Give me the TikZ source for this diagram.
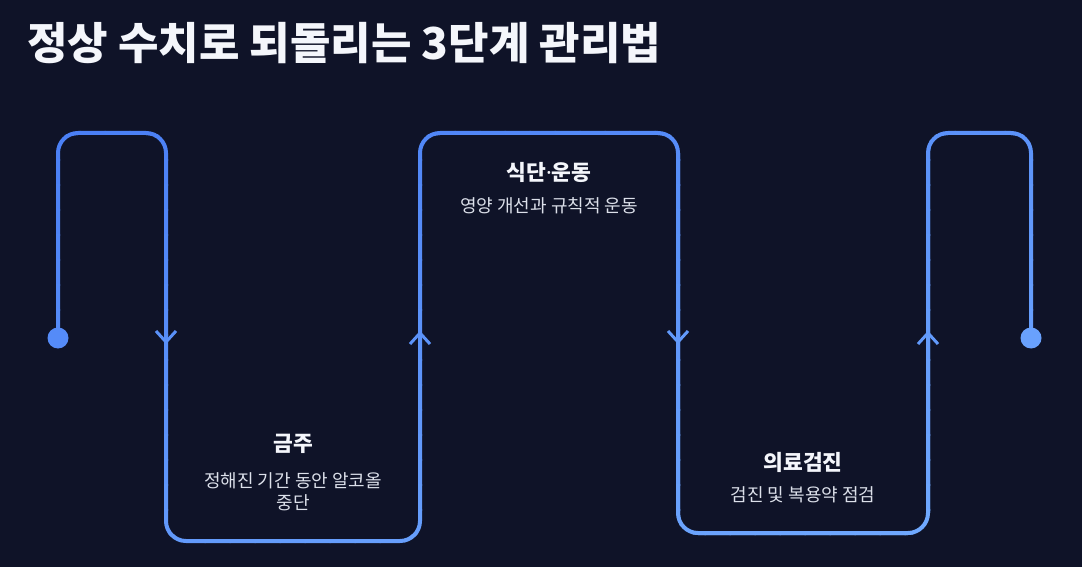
\documentclass[tikz,border=0pt]{standalone}
\usepackage{fontspec}
\setmainfont{Noto Sans CJK KR}
\newfontfamily\latinfont{Noto Sans}
\definecolor{bg}{HTML}{0F1328}
\definecolor{lnA}{HTML}{4A7FF5}
\definecolor{lnB}{HTML}{72ABFF}
\definecolor{ttl}{HTML}{F4F6FB}
\definecolor{subc}{HTML}{DCE0EA}
\tikzset{
  meander/.style={line width=4pt, rounded corners=20pt, line join=round},
  chev/.style={line width=3pt},
  dotnode/.style={circle, inner sep=0pt, minimum size=21pt},
  headtxt/.style={text=ttl, font=\fontsize{21.5}{26}\selectfont\bfseries, anchor=center, inner sep=0pt},
  subtxt/.style={text=subc, font=\fontsize{18}{22}\selectfont, anchor=center, align=center, inner sep=0pt}
}
\begin{document}
\begin{tikzpicture}[x=1pt,y=-1pt]
\fill[bg] (0,0) rectangle (1082,567);
\useasboundingbox (0,0) rectangle (1082,567);

% path corner coordinates
\coordinate (p0) at (58,338);
\coordinate (p1) at (58,133);
\coordinate (p2) at (166,133);
\coordinate (p3) at (166,541);
\coordinate (p4) at (420,541);
\coordinate (p5) at (420,133);
\coordinate (p6) at (678,133);
\coordinate (p7) at (678,533);
\coordinate (p8) at (928,533);
\coordinate (p9) at (928,133);
\coordinate (p10) at (1031,133);
\coordinate (p11) at (1031,338);

% gradient stroke: draw path clipped cell by cell
\foreach \i in {0,...,41}{
  \foreach \j in {0,...,17}{
    \pgfmathsetmacro\xa{30+\i*25}
    \pgfmathsetmacro\ya{110+\j*25}
    \pgfmathtruncatemacro\tt{max(0,min(100,100*(0.45*(\xa+12.5-58)/973+0.55*(\ya+12.5-133)/408)))}
    \colorlet{cc}{lnB!\tt!lnA}
    \begin{scope}
      \clip (\xa-0.5,\ya-0.5) rectangle (\xa+25.5,\ya+25.5);
      \draw[meander, cc] (p0) -- (p1) -- (p2) -- (p3) -- (p4) -- (p5) -- (p6) -- (p7) -- (p8) -- (p9) -- (p10) -- (p11);
    \end{scope}
  }
}

% end dots
\node[dotnode, fill=lnB!28!lnA] (start) at (p0) {};
\node[dotnode, fill=lnB!78!lnA] (finish) at (p11) {};

% direction chevrons
\coordinate (a1) at (166,342);
\coordinate (a2) at (420,333);
\coordinate (a3) at (678,342);
\coordinate (a4) at (928,333);
\draw[chev, lnB!40!lnA] ([shift={(-10,-11)}]a1) -- (a1) -- ([shift={(10,-11)}]a1);
\draw[chev, lnB!45!lnA] ([shift={(-10,11)}]a2) -- (a2) -- ([shift={(10,11)}]a2);
\draw[chev, lnB!60!lnA] ([shift={(-10,-11)}]a3) -- (a3) -- ([shift={(10,-11)}]a3);
\draw[chev, lnB!60!lnA] ([shift={(-10,11)}]a4) -- (a4) -- ([shift={(10,11)}]a4);

% title
\node[text=ttl, font=\fontsize{44}{52}\selectfont\bfseries, anchor=west, inner sep=0pt] (title) at (27,43) {정상 수치로 되돌리는 3단계 관리법};

% step 1
\node[headtxt] (h1) at (293,444) {금주};
\node[subtxt] (s1) at (293,492) {정해진 기간 동안 알코올\\중단};
% step 2
\node[headtxt] (h2) at (549,172) {식단{\latinfont\bfseries ·}운동};
\node[subtxt] (s2) at (549,206) {영양 개선과 규칙적 운동};
% step 3
\node[headtxt] (h3) at (803,462) {의료검진};
\node[subtxt] (s3) at (803,495) {검진 및 복용약 점검};
\end{tikzpicture}
\end{document}
